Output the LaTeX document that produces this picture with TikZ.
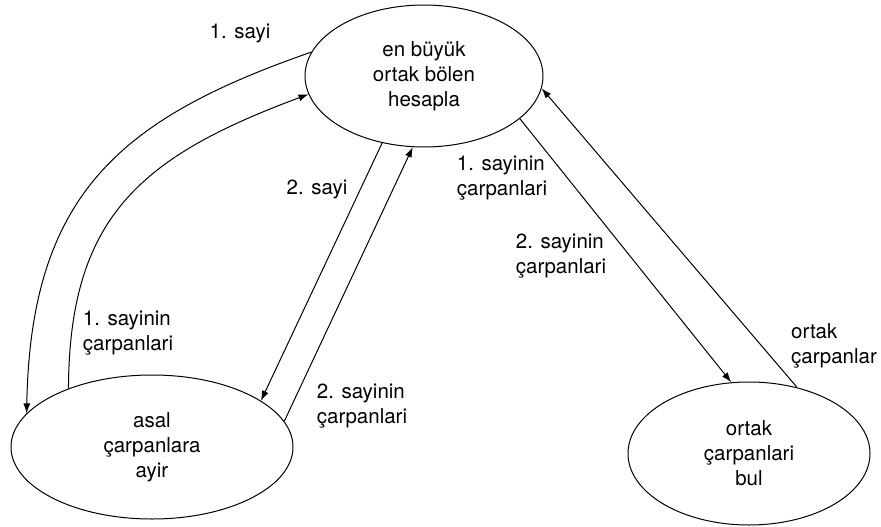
\documentclass[tikz,border=0pt]{standalone}
\usepackage{fontspec}
\setmainfont{TeX Gyre Heros}
\usetikzlibrary{shapes.geometric,arrows.meta}

\begin{document}
\begin{tikzpicture}[x=1pt,y=-1pt,
  every node/.style={font=\fontsize{20.5}{25}\selectfont},
  proc/.style={ellipse, draw, line width=1pt, inner sep=0pt, align=center},
  lbl/.style={inner sep=0pt, align=left},
  flow/.style={line width=1pt, -{Latex[length=10pt,width=7pt]}}]
  \useasboundingbox (0,0) rectangle (881,527);

  % processes
  \node[proc, minimum width=238pt, minimum height=142pt] (gcd) at (424,76)
    {en büyük\\ortak bölen\\hesapla};
  \node[proc, minimum width=282pt, minimum height=144pt] (asal) at (152,447)
    {asal\\çarpanlara\\ayir};
  \node[proc, minimum width=242pt, minimum height=143pt] (ortak) at (749,453.5)
    {ortak\\çarpanlari\\bul};

  % data flows
  \draw[flow] (gcd.168.3) .. controls +(-190,66) and +(4,-220) .. (asal.165.2);
  \draw[flow] (asal.145.4) .. controls +(1,-170) and +(-170,63) .. (gcd.189.5);
  \draw[flow] (gcd.238.2) -- (asal.23.8);
  \draw[flow] (asal.11.2) -- (gcd.261.4);
  \draw[flow] (gcd.336.2) -- (ortak.104.5);
  \draw[flow] (ortak.54.2) -- (gcd.354.4);

  % flow labels
  \node[lbl] (l1) at (240,33) {1. sayi};
  \node[lbl] (l2) at (317,189) {2. sayi};
  \node[lbl] (l3) at (128,333) {1. sayinin\\çarpanlari};
  \node[lbl] (l4) at (362,406) {2. sayinin\\çarpanlari};
  \node[lbl] (l5) at (502,178) {1. sayinin\\çarpanlari};
  \node[lbl] (l6) at (561,256) {2. sayinin\\çarpanlari};
  \node[lbl] (l7) at (834,346) {ortak\\çarpanlar};
\end{tikzpicture}
\end{document}
